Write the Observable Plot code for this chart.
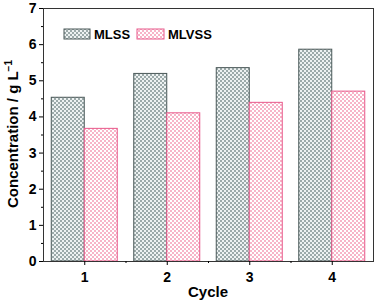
<!DOCTYPE html>
<html>
<head>
<meta charset="utf-8">
<script src="https://cdn.jsdelivr.net/npm/d3@7"></script>
<script src="https://cdn.jsdelivr.net/npm/@observablehq/plot@0.6"></script>
<style>
  html, body { margin: 0; padding: 0; background: #fff; }
  #chart { width: 375px; height: 302px; }
  svg { font-family: "Liberation Sans", Arial, sans-serif; }
</style>
</head>
<body>
<div id="chart"></div>
<script>
const cycles = [1, 2, 3, 4];
const mlss = [4.53, 5.19, 5.35, 5.86];
const mlvss = [3.67, 4.10, 4.39, 4.70];
const seriesNames = ["MLSS", "MLVSS"];
const yTicks = [0, 1, 2, 3, 4, 5, 6, 7];
const yMinor = [0.5, 1.5, 2.5, 3.5, 4.5, 5.5, 6.5];
const xMinor = [1.5, 2.5, 3.5];

const barW = 0.4;
const data = [];
cycles.forEach((c, i) => {
  data.push({cycle: c, series: "MLSS", value: mlss[i], x1: c - barW, x2: c});
  data.push({cycle: c, series: "MLVSS", value: mlvss[i], x1: c, x2: c + barW});
});

const fills = {MLSS: "url(#pat-mlss)", MLVSS: "url(#pat-mlvss)"};
const strokes = {MLSS: "#4a5858", MLVSS: "#e8588a"};

const plot = Plot.plot({
  width: 375,
  height: 302,
  marginLeft: 43,
  marginRight: 2,
  marginTop: 8,
  marginBottom: 41,
  style: {fontFamily: "Liberation Sans, Arial, sans-serif", fontWeight: "bold", fontSize: "14px", color: "#000"},
  x: {domain: [0.5, 4.5]},
  y: {domain: [0, 7]},
  marks: [
    Plot.rect(data, {x1: "x1", x2: "x2", y1: 0, y2: "value",
      fill: d => fills[d.series], stroke: d => strokes[d.series], strokeWidth: 1}),
    Plot.frame({stroke: "#333", strokeWidth: 1}),
    Plot.axisY(yTicks, {tickSize: 4, tickPadding: 3, fontSize: 14, fontWeight: "bold", label: null, stroke: "#000"}),
    Plot.axisY(yMinor, {tickSize: 2, tickFormat: () => "", label: null, stroke: "#000"}),
    Plot.axisX(cycles, {tickSize: 4, tickPadding: 7, fontSize: 14, fontWeight: "bold", label: null, stroke: "#000"}),
    Plot.axisX(xMinor, {tickSize: 2, tickFormat: () => "", label: null, stroke: "#000"})
  ]
});

document.getElementById("chart").appendChild(plot);
const svg = d3.select(plot);

const defs = svg.insert("defs", ":first-child");
function checker(id, bg, fg) {
  const p = defs.append("pattern").attr("id", id).attr("patternUnits", "userSpaceOnUse")
    .attr("width", 4).attr("height", 4);
  p.append("rect").attr("width", 4).attr("height", 4).attr("fill", bg);
  p.append("rect").attr("width", 2).attr("height", 2).attr("fill", fg);
  p.append("rect").attr("x", 2).attr("y", 2).attr("width", 2).attr("height", 2).attr("fill", fg);
}
checker("pat-mlss", "#eef2f2", "#9caaaa");
checker("pat-mlvss", "#ffffff", "#f7b4c8");

// Y axis title
svg.append("text")
  .attr("transform", "translate(18,134) rotate(-90)")
  .attr("text-anchor", "middle")
  .attr("font-size", 15).attr("font-weight", "bold").attr("fill", "#000")
  .text("Concentration / g L")
  .append("tspan").attr("dy", -6).attr("font-size", 10).text("−1");

// X axis title
svg.append("text")
  .attr("x", 208).attr("y", 297)
  .attr("text-anchor", "middle")
  .attr("font-size", 15).attr("font-weight", "bold").attr("fill", "#000")
  .text("Cycle");

// Legend
const legend = svg.append("g").attr("text-anchor", "start");
const items = [{name: seriesNames[0], x: 64, w: 26}, {name: seriesNames[1], x: 137, w: 27}];
items.forEach(it => {
  legend.append("rect").attr("x", it.x).attr("y", 29).attr("width", it.w).attr("height", 10)
    .attr("fill", fills[it.name]).attr("stroke", strokes[it.name]);
  legend.append("text").attr("x", it.x + it.w + 4).attr("y", 39)
    .attr("text-anchor", "start")
    .attr("font-size", 13).attr("font-weight", "bold").attr("fill", "#000").text(it.name);
});
</script>
</body>
</html>
